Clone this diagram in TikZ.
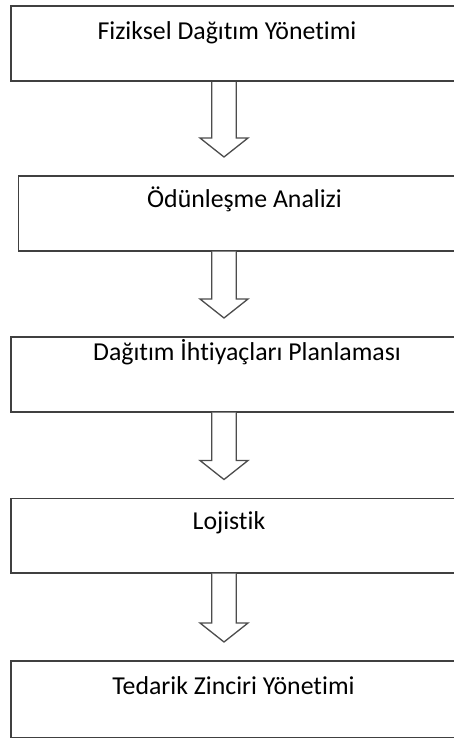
\documentclass[tikz,border=0pt]{standalone}
\usepackage{fontspec}
\setmainfont[Ligatures={NoCommon,NoContextual},RawFeature={-liga;-dlig}]{Carlito}
\usetikzlibrary{calc}
\begin{document}
\begin{tikzpicture}[x=1pt,y=1pt,
  stagebox/.style={draw=black!75, line width=1.6pt, rectangle, anchor=north west,
    minimum width=470pt, inner sep=0pt},
  stagetext/.style={anchor=base, inner sep=0pt, text=black,
    font=\fontsize{25.8}{30}\selectfont},
  hollow/.style={draw=black!70, line width=1.3pt, line join=miter, fill=white}]
\useasboundingbox (0,0) rectangle (454,-738);
\clip (0,0) rectangle (454,-738);
\fill[white] (0,0) rectangle (454,-738);

% stage boxes
\node[stagebox, minimum height=75pt] (b1) at (10,-5.5) {};
\node[stagebox, minimum height=75pt] (b2) at (17.5,-175) {};
\node[stagebox, minimum height=75pt] (b3) at (10,-336) {};
\node[stagebox, minimum height=74.5pt] (b4) at (10,-497.5) {};
\node[stagebox, minimum height=77pt] (b5) at (10,-660) {};

% stage titles
\node[stagetext] (t1) at (227,-39.5) {Fiziksel Dağıtım Yönetimi};
\node[stagetext] (t2) at (244.5,-207) {Ödünleşme Analizi};
\node[stagetext] (t3) at (247,-360.5) {Dağıtım İhtiyaçları Planlaması};
\node[stagetext] (t4) at (229,-529) {Lojistik};
\node[stagetext] (t5) at (233.5,-694) {Tedarik Zinciri Yönetimi};

% axis of the block arrows
\coordinate (ax) at (224,0);

% hollow block arrows between consecutive stages
\foreach \u/\v in {b1/b2, b2/b3, b3/b4, b4/b5}{
  \path (\u.south -| ax) coordinate (s) (\v.north -| ax) ++(0,18) coordinate (p);
  \draw[hollow] ($(s)+(-12.2,0)$) -- ($(p)+(-12.2,19)$) -- ($(p)+(-24,19)$)
    -- (p) -- ($(p)+(24,19)$) -- ($(p)+(12.2,19)$) -- ($(s)+(12.2,0)$);
}
\end{tikzpicture}
\end{document}
